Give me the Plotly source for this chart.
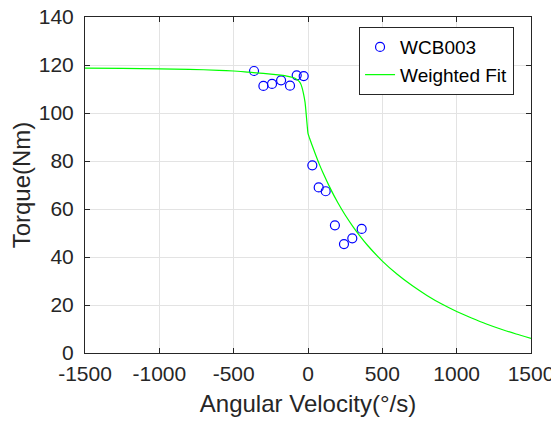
import plotly.graph_objects as go

# Measured data (WCB003)
vel_data = [-363, -300, -242, -181, -121, -76, -29, 29, 72, 119, 181, 242, 298, 361]
torque_data = [117.5, 111.3, 112.1, 113.6, 111.4, 115.7, 115.4, 78.2, 69.0, 67.4, 53.2, 45.4, 47.8, 51.7]

# Weighted fit curve
fit_vel = [-1500, -1250, -1000, -800, -600, -500, -400, -300, -200, -150, -100, -75, -60, -50,
           -40, -30, -20, -15, -10, -5, 0, 10, 25, 50, 75, 100, 150, 200, 250, 300, 350, 400,
           500, 600, 700, 800, 900, 1000, 1100, 1200, 1300, 1400, 1500]
fit_torque = [118.7, 118.6, 118.4, 118.2, 117.8, 117.5, 117.0, 116.5, 115.9, 115.5, 114.8, 114.0,
              113.2, 112.3, 110.6, 108.0, 104.5, 101.5, 98.0, 94.5, 91.5, 89.6, 87.0, 82.8, 78.8,
              75.2, 68.6, 62.7, 57.5, 52.9, 48.7, 44.9, 38.3, 32.8, 28.1, 24.0, 20.4, 17.3, 14.6,
              12.1, 9.9, 7.9, 6.1]

x_ticks = [-1500, -1000, -500, 0, 500, 1000, 1500]
y_ticks = [0, 20, 40, 60, 80, 100, 120, 140]

FONT = "Liberation Sans, Arial, sans-serif"
AX = "#262626"
GRID = "#e3e3e3"

fig = go.Figure()
fig.add_trace(go.Scatter(
    x=vel_data, y=torque_data, mode="markers", name="WCB003",
    marker=dict(symbol="circle-open", size=9, color="#0000ff", line=dict(width=1.2, color="#0000ff")),
))
fig.add_trace(go.Scatter(
    x=fit_vel, y=fit_torque, mode="lines", name="Weighted Fit",
    line=dict(color="#00ff00", width=1.2, shape="spline", smoothing=0.6),
))

axis_common = dict(
    showline=True, linecolor=AX, linewidth=1, mirror="ticks",
    ticks="inside", ticklen=5, tickcolor=AX, tickwidth=1,
    showgrid=True, gridcolor=GRID, gridwidth=1, zeroline=False,
    tickfont=dict(family=FONT, size=21, color=AX),
    ticklabeloverflow="allow",
)

fig.update_xaxes(
    range=[-1500, 1500], tickvals=x_ticks, ticktext=[str(v) for v in x_ticks],
    title=dict(text="Angular Velocity(°/s)", font=dict(family=FONT, size=24, color=AX), standoff=10),
    automargin=False, ticklabelstandoff=2, **axis_common,
)
fig.update_yaxes(
    range=[0, 140], tickvals=y_ticks, ticktext=[str(v) for v in y_ticks],
    title=dict(text="Torque(Nm)", font=dict(family=FONT, size=24, color=AX), standoff=10),
    automargin=False, ticklabelstandoff=6, **axis_common,
)

fig.update_layout(
    width=551, height=417,
    margin=dict(l=77, r=28, t=9, b=72),
    paper_bgcolor="white", plot_bgcolor="white",
    font=dict(family=FONT, color=AX),
    legend=dict(
        x=0.962, y=0.97, xanchor="right", yanchor="top",
        bgcolor="white", bordercolor=AX, borderwidth=1,
        font=dict(family=FONT, size=19, color="#000000"),
        tracegroupgap=0, itemwidth=30,
    ),
    showlegend=True,
)

fig.write_html("out.html")
